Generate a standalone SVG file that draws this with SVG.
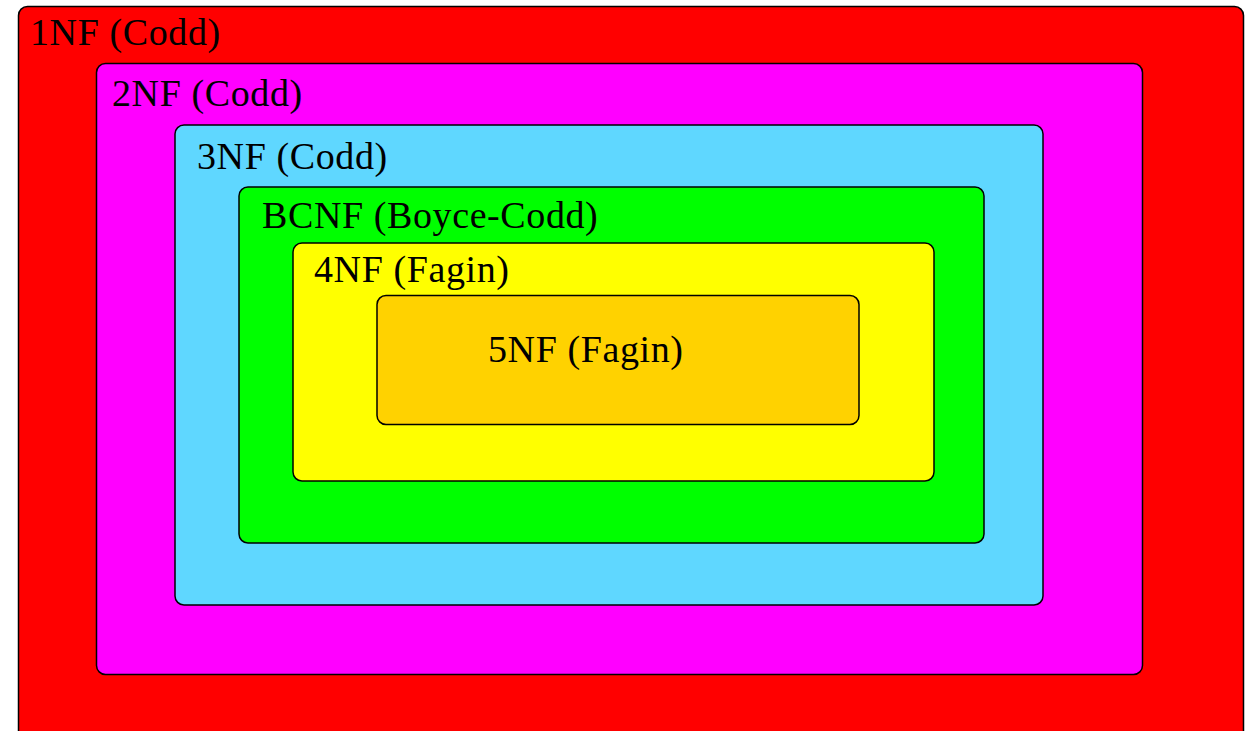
<svg xmlns="http://www.w3.org/2000/svg" width="1255" height="731" viewBox="0 0 1255 731">
<style>
.box{stroke:#000;stroke-width:1.5}
.lbl{font-family:"Liberation Serif","Times New Roman",serif;font-size:38px;letter-spacing:0.6px;fill:#000}
</style>
<rect width="1255" height="731" fill="#fff"/>
<g id="nf1"><rect class="box" x="18.5" y="6.5" width="1225" height="740" rx="9" fill="#FF0000"/><text class="lbl" x="30" y="45">1NF (Codd)</text></g>
<g id="nf2"><rect class="box" x="96.5" y="63.5" width="1046" height="611" rx="9" fill="#FF00FF"/><text class="lbl" x="112" y="106">2NF (Codd)</text></g>
<g id="nf3"><rect class="box" x="175" y="125" width="868" height="480" rx="9" fill="#5FD7FF"/><text class="lbl" x="197" y="169">3NF (Codd)</text></g>
<g id="bcnf"><rect class="box" x="239" y="187" width="745" height="356" rx="9" fill="#00FF00"/><text class="lbl" x="262" y="228">BCNF (Boyce-Codd)</text></g>
<g id="nf4"><rect class="box" x="293" y="243" width="641" height="238" rx="9" fill="#FFFF00"/><text class="lbl" x="314" y="282">4NF (Fagin)</text></g>
<g id="nf5"><rect class="box" x="377" y="295.5" width="482" height="129" rx="9" fill="#FFD200"/><text class="lbl" x="488" y="362">5NF (Fagin)</text></g>
</svg>
